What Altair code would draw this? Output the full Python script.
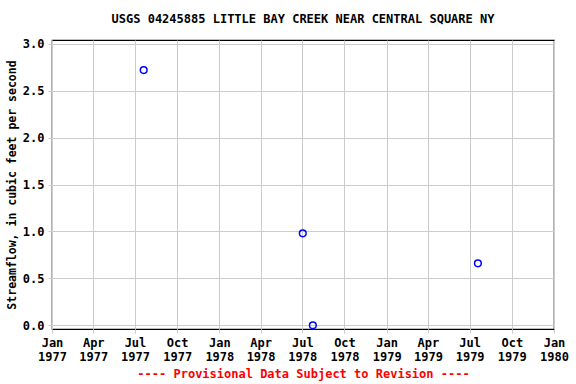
import altair as alt
import pandas as pd

dates = ["1977-07-20", "1978-07-02", "1978-07-24", "1979-07-19"]
flows = [2.72, 0.98, 0.0, 0.66]
tick_dates = ["1977-01-01", "1977-04-01", "1977-07-01", "1977-10-01",
              "1978-01-01", "1978-04-01", "1978-07-01", "1978-10-01",
              "1979-01-01", "1979-04-01", "1979-07-01", "1979-10-01",
              "1980-01-01"]
y_ticks = [0.0, 0.5, 1.0, 1.5, 2.0, 2.5, 3.0]

df = pd.DataFrame({"date": pd.to_datetime(dates), "flow": flows})
tick_vals = [alt.DateTime(year=int(d[:4]), month=int(d[5:7]), date=1) for d in tick_dates]

FONT = "DejaVu Sans Mono"

chart = alt.Chart(df).mark_point(
    shape="circle", filled=False, color="#0000ff", size=45, strokeWidth=1.5, opacity=1
).encode(
    x=alt.X("date:T",
            scale=alt.Scale(domain=[alt.DateTime(year=1977, month=1, date=1),
                                    alt.DateTime(year=1980, month=1, date=1)]),
            axis=alt.Axis(values=tick_vals,
                          labelExpr="[timeFormat(datum.value, '%b'), timeFormat(datum.value, '%Y')]",
                          title="---- Provisional Data Subject to Revision ----",
                          titleColor="#ff0000", titleFont=FONT, titleFontSize=12,
                          titleFontWeight="bold", titlePadding=6,
                          labelFont=FONT, labelFontSize=12, labelFontWeight="bold",
                          labelColor="black", labelPadding=4, tickSize=4,
                          labelOverlap=False, labelFlush=False, domain=False,
                          gridColor="#cccccc", tickColor="#cccccc")),
    y=alt.Y("flow:Q",
            scale=alt.Scale(domain=[-0.04, 3.04], nice=False, zero=False),
            axis=alt.Axis(values=y_ticks, format=".1f",
                          title="Streamflow, in cubic feet per second",
                          titleFont=FONT, titleFontSize=11.5, titleFontWeight="bold",
                          titleColor="black", titlePadding=5,
                          labelFont=FONT, labelFontSize=12, labelFontWeight="bold",
                          labelColor="black", labelPadding=4, tickSize=4,
                          domain=False, gridColor="#cccccc", tickColor="#cccccc")),
).properties(
    width=502, height=289,
    title=alt.TitleParams("USGS 04245885 LITTLE BAY CREEK NEAR CENTRAL SQUARE NY",
                          font=FONT, fontSize=12, fontWeight="bold", color="black",
                          offset=12, anchor="middle"),
    autosize=alt.AutoSizeParams(type="none"),
    padding={"left": 52, "top": 40, "right": 22, "bottom": 55},
).configure_view(stroke="black", strokeWidth=1.2)

chart.save("out.html", embed_options={"renderer": "svg", "actions": False})
